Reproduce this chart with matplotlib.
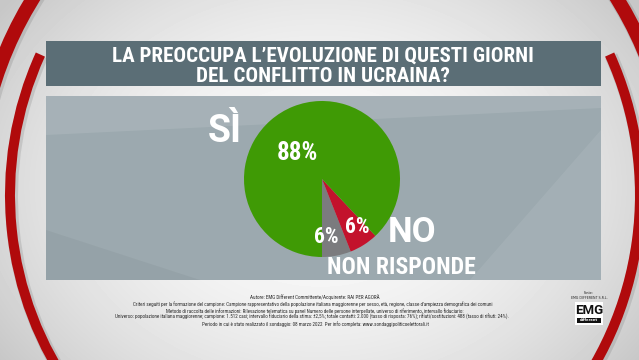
import numpy as np
import matplotlib
matplotlib.use('Agg')
import matplotlib.pyplot as plt
from matplotlib import font_manager
from matplotlib.patches import Wedge, Rectangle, Polygon

W, H = 639, 360

# dati del grafico
title_lines = ["LA PREOCCUPA L’EVOLUZIONE DI QUESTI GIORNI",
               "DEL CONFLITTO IN UCRAINA?"]
answers = ['Non risponde', 'No', 'Sì']
shares = [6, 6, 88]
slice_colors = ['#7b7b7e', '#c3122c', '#3f9a05']
footnote = [
    "Autore: EMG Different Committente/Acquirente: RAI PER AGORÀ",
    "Criteri seguiti per la formazione del campione: Campione rappresentativo della popolazione italiana maggiorenne per sesso, età, regione, classe d'ampiezza demografica dei comuni",
    "Metodo di raccolta delle informazioni: Rilevazione telematica su panel Numero delle persone interpellate, universo di riferimento, intervallo fiduciario:",
    "Universo: popolazione italiana maggiorenne; campione: 1.512 casi; intervallo fiduciario della stima: ±2,5%; totale contatti: 2.000 (tasso di risposta: 76%); rifiuti/sostituzioni: 488 (tasso di rifiuti: 24%).",
    "Periodo in cui è stato realizzato il sondaggio: 08 marzo 2022  Per info completa: www.sondaggipoliticoelettorali.it",
]

# font condensato se disponibile
available = {f.name for f in font_manager.fontManager.ttflist}
cond = next(n for n in ['Roboto Condensed', 'Liberation Sans Narrow', 'Roboto', 'DejaVu Sans'] if n in available)
bold = 'Roboto' if 'Roboto' in available else 'DejaVu Sans'

fig = plt.figure(figsize=(W / 100, H / 100), dpi=100)
bg = fig.add_axes([0, 0, 1, 1])
bg.set_xlim(0, W)
bg.set_ylim(H, 0)
bg.axis('off')

# sfondo grigio chiaro con alone bianco
yy, xx = np.mgrid[0:H, 0:W]
d = np.hypot((xx - 320) / 330, (yy - 185) / 250)
img = np.clip(0.98 - 0.14 * d ** 2, 0.78, 1)
bg.imshow(img, cmap='gray', vmin=0, vmax=1, extent=(0, W, H, 0), aspect='auto', zorder=0)

# archi rossi ai lati
arcs = [((350, 195), 345, 10, 144, 204.4),
        ((350, 195), 380, 14, 180, 262),
        ((300, 195), 345, 10, -24.4, 40),
        ((300, 195), 380, 14, -82, 0)]
for c, r, w, t1, t2 in arcs:
    bg.add_patch(Wedge((c[0] + 1.5, c[1] + 1.5), r + 1.5, t1, t2, width=w + 3,
                       color='black', alpha=0.10, lw=0, zorder=1))
    bg.add_patch(Wedge(c, r, t1, t2, width=w, color='#b00a0c', lw=0, zorder=2))

# fascia del titolo e pannello
bg.add_patch(Rectangle((46, 41), 555, 45, color='#5b6e76', lw=0, zorder=3))
bg.add_patch(Rectangle((46, 96), 555, 184, color='#9ca9af', lw=0, zorder=3))
bg.add_patch(Polygon([(46, 96), (601, 96), (601, 108), (46, 135)], color='white',
                     alpha=0.10, lw=0, zorder=3))
bg.add_patch(Polygon([(470, 280), (601, 130), (601, 280)], color='white',
                     alpha=0.08, lw=0, zorder=3))
bg.add_patch(Polygon([(46, 230), (200, 280), (46, 280)], color='black',
                     alpha=0.04, lw=0, zorder=3))

renderer = fig.canvas.get_renderer()


def fitted(x, y, s, width, family, weight='bold', color='white', size=10, z=5):
    t = bg.text(x, y, s, ha='center', va='center', color=color, fontsize=size,
                family=family, fontweight=weight, zorder=z)
    wpx = t.get_window_extent(renderer).width
    t.set_fontsize(size * width / wpx)
    return t.get_fontsize()


fs = fitted(323, 56, title_lines[0], 419, cond)
bg.text(323, 77, title_lines[1], ha='center', va='center', color='white',
        fontsize=fs, family=cond, fontweight='bold', zorder=5)

# torta
r_px = 78
cx, cy = 322, 179
pie_ax = fig.add_axes([(cx - r_px) / W, 1 - (cy + r_px) / H, 2 * r_px / W, 2 * r_px / H])
wedges, texts, autotexts = pie_ax.pie(
    shares, colors=slice_colors, startangle=-90, counterclock=True,
    autopct='%.0f%%', pctdistance=0.77,
    wedgeprops=dict(linewidth=0),
    textprops=dict(color='white', fontsize=15.5, fontweight='bold', family=cond))
pie_ax.set_xlim(-1, 1)
pie_ax.set_ylim(-1, 1)
pie_ax.axis('off')
autotexts[0].set_position((0.06, -0.74))
autotexts[1].set_position((0.45, -0.62))
autotexts[2].set_position((-0.32, 0.33))
autotexts[2].set_fontsize(18)

# etichette delle risposte
bg.text(225, 132, 'SÌ', ha='center', va='center', color='white', fontsize=27,
        family=bold, fontweight='bold', zorder=5)
bg.text(412, 233, answers[1].upper(), ha='center', va='center', color='white',
        fontsize=25, family=bold, fontweight='bold', zorder=5)
fitted(401, 267, answers[0].upper(), 148, cond)

# note metodologiche
ys = [297, 304, 310.7, 317.5, 324.3]
nf = fitted(313, ys[1], footnote[1], 363, cond, weight='normal', color='#2a2a2a')
for i in [0, 2, 3, 4]:
    bg.text(315 if i != 3 else 312, ys[i], footnote[i], ha='center', va='center',
            color='#2a2a2a', fontsize=nf, family=cond, zorder=5)

# logo
bg.text(589, 293, 'Fonte:', ha='center', va='center', fontsize=2.3, color='#222222', zorder=5)
bg.text(589, 298, 'EMG DIFFERENT S.R.L.', ha='center', va='center', fontsize=2.3,
        color='#222222', zorder=5)
bg.add_patch(Rectangle((575, 302), 28, 23, color='white', lw=0, zorder=4))
bg.text(589, 310.5, 'EMG', ha='center', va='center', fontsize=9.5, color='#111111',
        family=bold, fontweight='bold', zorder=5)
bg.add_patch(Rectangle((577, 317.5), 24, 5, color='#111111', lw=0, zorder=5))
bg.text(589, 320, 'different', ha='center', va='center', fontsize=2.6, color='white',
        fontweight='bold', zorder=6)

fig.savefig('out.png', dpi=100)
